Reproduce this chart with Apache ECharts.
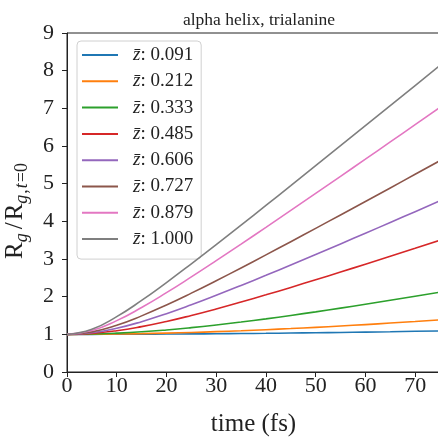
<!DOCTYPE html>
<html>
<head>
<meta charset="utf-8">
<script src="https://cdn.jsdelivr.net/npm/echarts@6/dist/echarts.min.js"></script>
<style>html,body{margin:0;padding:0;background:#fff;}#c{width:438px;height:440px;}</style>
</head>
<body>
<div id="c"></div>
<script>
var titleText = 'alpha helix, trialanine';
var xLabel = 'time (fs)';
var times = [0, 5, 10, 15, 20, 25, 30, 35, 40, 45, 50, 55, 60, 65, 70, 75];
var zLabels = ['0.091', '0.212', '0.333', '0.485', '0.606', '0.727', '0.879', '1.000'];
var colors = ['#1f77b4', '#ff7f0e', '#2ca02c', '#d62728', '#9467bd', '#8c564b', '#e377c2', '#7f7f7f'];
var z0091 = [1, 1.000, 1.002, 1.004, 1.007, 1.011, 1.015, 1.021, 1.027, 1.034, 1.042, 1.050, 1.059, 1.069, 1.080, 1.091];
var z0212 = [1, 1.002, 1.008, 1.018, 1.032, 1.050, 1.071, 1.095, 1.123, 1.153, 1.186, 1.221, 1.259, 1.299, 1.340, 1.383];
var z0333 = [1, 1.008, 1.031, 1.067, 1.117, 1.178, 1.248, 1.326, 1.411, 1.502, 1.597, 1.696, 1.798, 1.903, 2.010, 2.118];
var z0485 = [1, 1.025, 1.095, 1.204, 1.341, 1.500, 1.673, 1.857, 2.049, 2.246, 2.449, 2.654, 2.862, 3.073, 3.285, 3.498];
var z0606 = [1, 1.043, 1.162, 1.336, 1.548, 1.784, 2.036, 2.298, 2.567, 2.841, 3.120, 3.401, 3.684, 3.969, 4.256, 4.544];
var z0727 = [1, 1.066, 1.242, 1.490, 1.780, 2.094, 2.424, 2.763, 3.109, 3.460, 3.813, 4.170, 4.528, 4.887, 5.248, 5.610];
var z0879 = [1, 1.102, 1.364, 1.713, 2.106, 2.524, 2.955, 3.395, 3.840, 4.290, 4.742, 5.196, 5.651, 6.108, 6.566, 7.024];
var z1000 = [1, 1.136, 1.470, 1.900, 2.375, 2.872, 3.382, 3.900, 4.423, 4.949, 5.477, 6.007, 6.539, 7.072, 7.605, 8.139];
var allSeries = [z0091, z0212, z0333, z0485, z0606, z0727, z0879, z1000];

var serif = '"Liberation Serif", "DejaVu Serif", serif';
var chart = echarts.init(document.getElementById('c'), null, {renderer: 'canvas'});
var series = allSeries.map(function (vals, i) {
  return {
    name: zLabels[i],
    type: 'line',
    symbol: 'none',
    smooth: true,
    data: times.map(function (t, j) { return [t, vals[j]]; }),
    lineStyle: {color: colors[i], width: 1.6},
    itemStyle: {color: colors[i]},
    z: 2 + i
  };
});
chart.setOption({
  animation: false,
  color: colors,
  title: {
    text: titleText, left: 254, top: 6, textAlign: 'center',
    textStyle: {fontFamily: serif, fontSize: 17.5, fontWeight: 'normal', color: '#222'}
  },
  grid: {left: 67, top: 33, right: -2, bottom: 68, show: true, borderColor: '#222', borderWidth: 1,
    containLabel: false, outerBoundsMode: 'none'},
  legend: {
    orient: 'vertical', left: 77, top: 41,
    icon: 'rect',
    itemWidth: 36, itemHeight: 2, itemGap: 6.3,
    padding: [4, 8, 10, 5],
    borderColor: '#d0d0d0', borderWidth: 1, borderRadius: 4,
    backgroundColor: 'rgba(255,255,255,0.8)',
    data: zLabels,
    formatter: function (n) { return '{z|z\u0304}{t|: ' + n + '}'; },
    textStyle: {
      fontFamily: serif, fontSize: 19, color: '#222', lineHeight: 20,
      rich: {
        z: {fontFamily: serif, fontSize: 19, fontStyle: 'italic', color: '#222', padding: [0, 0, 0, 10]},
        t: {fontFamily: serif, fontSize: 19, color: '#222'}
      }
    }
  },
  xAxis: {
    type: 'value', min: 0, max: 75, interval: 10,
    name: xLabel, nameLocation: 'middle', nameGap: 40,
    nameTextStyle: {fontFamily: serif, fontSize: 25, color: '#222'},
    axisLine: {lineStyle: {color: '#222', width: 1}},
    axisTick: {length: 5, lineStyle: {color: '#222'}},
    axisLabel: {fontFamily: serif, fontSize: 22, color: '#222', margin: 3, showMaxLabel: false},
    splitLine: {show: false}
  },
  yAxis: {
    type: 'value', min: 0, max: 9, interval: 1,
    name: '{R|R}{si|g}{sl|/}{R|R}{si|g}{s|,}{si|t}{s|=0}',
    nameLocation: 'middle', nameRotate: 90, nameGap: 36,
    nameTextStyle: {
      fontFamily: serif, fontSize: 25, color: '#222', padding: [0, 16, 0, 0],
      rich: {
        R: {fontFamily: serif, fontSize: 25, color: '#222', lineHeight: 32, verticalAlign: 'middle'},
        sl: {fontFamily: serif, fontSize: 25, color: '#222', lineHeight: 32, verticalAlign: 'middle', padding: [0, 2, 0, 3]},
        si: {fontFamily: serif, fontSize: 18, fontStyle: 'italic', color: '#222', lineHeight: 18, verticalAlign: 'bottom', padding: [0, 1, 0, 0]},
        s: {fontFamily: serif, fontSize: 18, color: '#222', lineHeight: 18, verticalAlign: 'bottom', padding: [0, 1, 0, 0]}
      }
    },
    axisLine: {show: true, lineStyle: {color: '#222', width: 1}},
    axisTick: {show: true, length: 5, lineStyle: {color: '#222'}},
    axisLabel: {fontFamily: serif, fontSize: 22, color: '#222', margin: 13},
    splitLine: {show: false}
  },
  series: series
});
</script>
</body>
</html>
